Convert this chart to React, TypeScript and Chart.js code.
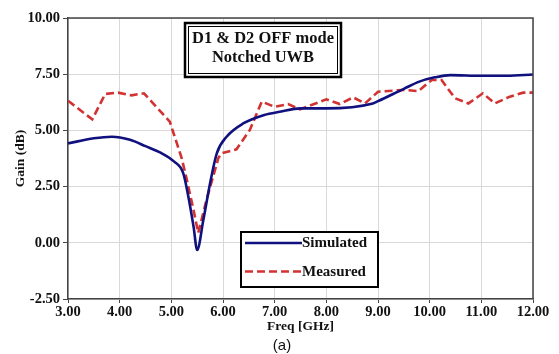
import React, { useEffect, useRef } from "react";
import { Chart, registerables } from "chart.js";

Chart.register(...registerables);

const simFreq = [3.0, 3.5, 3.85, 4.2, 4.5, 4.8, 5.05, 5.23, 5.33, 5.43, 5.5, 5.62, 5.75, 5.88, 6.07, 6.4, 6.8, 7.1, 7.5, 8.0, 8.9, 9.0, 9.5, 9.8, 10.1, 10.4, 11.0, 11.5, 12.0];
const simGain = [4.42, 4.65, 4.72, 4.58, 4.3, 4.0, 3.62, 3.1, 2.05, 0.72, -0.32, 1.02, 2.65, 3.98, 4.72, 5.32, 5.69, 5.83, 5.98, 5.98, 6.2, 6.3, 6.85, 7.17, 7.36, 7.46, 7.43, 7.43, 7.49];

const measFreq = [3.0, 3.47, 3.72, 3.97, 4.23, 4.47, 4.97, 5.2, 5.3, 5.43, 5.52, 5.68, 5.91, 5.97, 6.26, 6.52, 6.75, 7.0, 7.26, 7.49, 8.0, 8.26, 8.52, 8.75, 9.0, 9.49, 9.78, 10.04, 10.23, 10.49, 10.75, 11.03, 11.26, 11.55, 11.81, 12.0];
const measGain = [6.32, 5.49, 6.62, 6.68, 6.56, 6.65, 5.39, 3.77, 2.8, 1.46, 0.44, 1.9, 3.77, 3.98, 4.16, 5.02, 6.28, 6.05, 6.17, 5.94, 6.38, 6.17, 6.47, 6.2, 6.72, 6.8, 6.75, 7.24, 7.24, 6.43, 6.2, 6.65, 6.2, 6.5, 6.68, 6.68];

const seriesLabels = ["Simulated", "Measured"];
const titleLines = ["D1 & D2 OFF mode", "Notched UWB"];
const xTitle = "Freq [GHz]";
const yTitle = "Gain (dB)";
const caption = "(a)";

const BLUE = "#10107e";
const RED = "#d23232";
const SERIF = "'Liberation Serif', 'DejaVu Serif', serif";

const overlayPlugin = {
  id: "overlay",
  afterDraw(chart: any) {
    const ctx = chart.ctx;
    const a = chart.chartArea;
    ctx.save();
    // frame top/right
    ctx.strokeStyle = "#444";
    ctx.lineWidth = 1.5;
    ctx.beginPath();
    ctx.moveTo(a.left, a.top);
    ctx.lineTo(a.right, a.top);
    ctx.lineTo(a.right, a.bottom);
    ctx.stroke();

    // title box
    const bx = 185, by = 23, bw = 156, bh = 54;
    ctx.fillStyle = "#fff";
    ctx.fillRect(bx, by, bw, bh);
    ctx.strokeStyle = "#000";
    ctx.lineWidth = 2.5;
    ctx.strokeRect(bx, by, bw, bh);
    ctx.lineWidth = 1;
    ctx.strokeRect(bx + 3.5, by + 3.5, bw - 7, bh - 7);
    ctx.fillStyle = "#111";
    ctx.font = `bold 16.5px ${SERIF}`;
    ctx.textAlign = "center";
    ctx.textBaseline = "middle";
    ctx.fillText(titleLines[0], bx + bw / 2, 39);
    ctx.fillText(titleLines[1], bx + bw / 2, 58);

    // legend box
    const lx = 241, ly = 232, lw = 137, lh = 55;
    ctx.fillStyle = "#fff";
    ctx.fillRect(lx, ly, lw, lh);
    ctx.strokeStyle = "#000";
    ctx.lineWidth = 2;
    ctx.strokeRect(lx, ly, lw, lh);
    ctx.lineWidth = 2.5;
    ctx.strokeStyle = BLUE;
    ctx.beginPath();
    ctx.moveTo(245, 243);
    ctx.lineTo(302, 243);
    ctx.stroke();
    ctx.strokeStyle = RED;
    ctx.setLineDash([8, 4]);
    ctx.beginPath();
    ctx.moveTo(245, 271.5);
    ctx.lineTo(302, 271.5);
    ctx.stroke();
    ctx.setLineDash([]);
    ctx.fillStyle = "#111";
    ctx.font = `bold 15px ${SERIF}`;
    ctx.textAlign = "left";
    ctx.fillText(seriesLabels[0], 302, 243);
    ctx.fillText(seriesLabels[1], 302, 272);

    // axis titles
    ctx.font = `bold 13.5px ${SERIF}`;
    ctx.textAlign = "center";
    ctx.fillText(xTitle, (a.left + a.right) / 2, 327);
    ctx.save();
    ctx.translate(21, (a.top + a.bottom) / 2);
    ctx.rotate(-Math.PI / 2);
    ctx.fillText(yTitle, 0, 0);
    ctx.restore();

    // caption
    ctx.font = `15px 'Liberation Sans', 'DejaVu Sans', sans-serif`;
    ctx.fillText(caption, 282, 346);
    ctx.restore();
  },
};

export default function App() {
  const ref = useRef<HTMLCanvasElement | null>(null);
  useEffect(() => {
    if (!ref.current) return;
    const chart = new Chart(ref.current, {
      type: "line",
      data: {
        datasets: [
          {
            label: seriesLabels[0],
            data: simFreq.map((f, i) => ({ x: f, y: simGain[i] })),
            borderColor: BLUE,
            borderWidth: 2.6,
            pointRadius: 0,
            cubicInterpolationMode: "monotone",
            fill: false,
          },
          {
            label: seriesLabels[1],
            data: measFreq.map((f, i) => ({ x: f, y: measGain[i] })),
            borderColor: RED,
            borderWidth: 2.6,
            borderDash: [8, 4],
            pointRadius: 0,
            tension: 0,
            fill: false,
          },
        ],
      },
      options: {
        animation: false,
        responsive: false,
        maintainAspectRatio: false,
        layout: { padding: { top: 18, right: 26, left: 0, bottom: 0 } },
        plugins: { legend: { display: false }, tooltip: { enabled: false } },
        scales: {
          x: {
            type: "linear",
            min: 3,
            max: 12,
            afterFit: (s: any) => { s.height = 55; },
            ticks: {
              stepSize: 1,
              color: "#111",
              font: { family: SERIF, size: 14.5, weight: "bold" },
              padding: 1,
              maxRotation: 0,
              callback: (v: any) => Number(v).toFixed(2),
            },
            grid: { color: "#d9d9d9", lineWidth: 1, tickLength: 4, tickColor: "#444" },
            border: { display: true, color: "#444", width: 1.5 },
          },
          y: {
            min: -2.5,
            max: 10,
            afterFit: (s: any) => { s.width = 68; },
            ticks: {
              stepSize: 2.5,
              color: "#111",
              font: { family: SERIF, size: 14.5, weight: "bold" },
              padding: 3,
              callback: (v: any) => Number(v).toFixed(2),
            },
            grid: { color: "#d9d9d9", lineWidth: 1, tickLength: 5, tickColor: "#444" },
            border: { display: true, color: "#444", width: 1.5 },
          },
        },
      },
      plugins: [overlayPlugin],
    } as any);
    return () => chart.destroy();
  }, []);
  return (
    <div style={{ position: "absolute", left: 0, top: 0, width: 559, height: 354, background: "#fff" }}>
      <canvas ref={ref} width={559} height={354} style={{ width: 559, height: 354 }} />
    </div>
  );
}
